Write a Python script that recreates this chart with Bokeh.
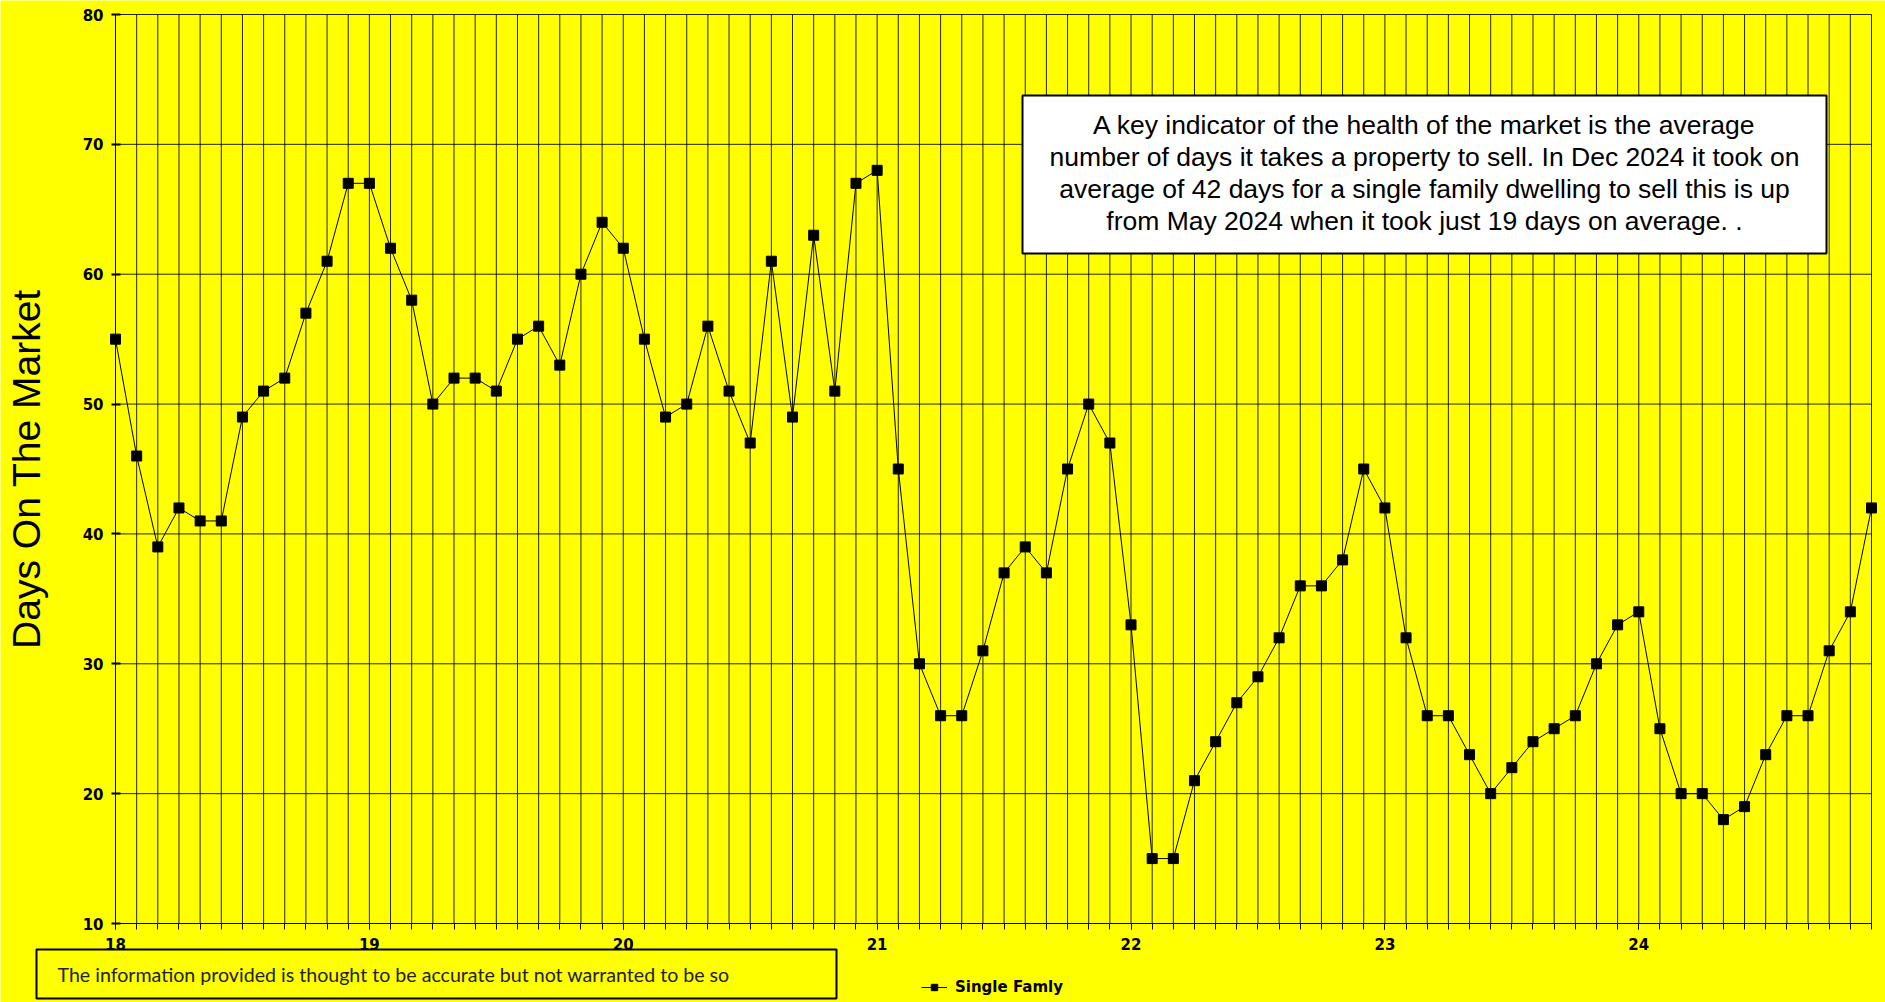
from bokeh.plotting import figure
from bokeh.models import Range1d, FixedTicker, Label, BoxAnnotation, Legend, LegendItem
from bokeh.embed import file_html
from bokeh.resources import INLINE

# ---- data ----
year_labels = ["18", "19", "20", "21", "22", "23", "24"]
days_on_market = [
    55, 46, 39, 42, 41, 41, 49, 51, 52, 57, 61, 67,   # 2018
    67, 62, 58, 50, 52, 52, 51, 55, 56, 53, 60, 64,   # 2019
    62, 55, 49, 50, 56, 51, 47, 61, 49, 63, 51, 67,   # 2020
    68, 45, 30, 26, 26, 31, 37, 39, 37, 45, 50, 47,   # 2021
    33, 15, 15, 21, 24, 27, 29, 32, 36, 36, 38, 45,   # 2022
    42, 32, 26, 26, 23, 20, 22, 24, 25, 26, 30, 33,   # 2023
    34, 25, 20, 20, 18, 19, 23, 26, 26, 31, 34, 42,   # 2024
]
y_ticks = [10, 20, 30, 40, 50, 60, 70, 80]
series_name = "Single Famly"
axis_title = "Days On The Market"
note_lines = [
    "A key indicator of the health of the market is the average",
    "number of days it takes a property to sell. In Dec 2024 it took on",
    "average of 42 days for a single family dwelling to sell this is up",
    "from May 2024 when it took just 19 days on average. .",
]
footer_text = "The information provided is thought to be accurate but not warranted to be so"

months = list(range(len(days_on_market)))
year_ticks = [12 * i for i in range(len(year_labels))]

# ---- layout (pixels on the page) ----
W, H = 1885, 1002
PX_L, PX_R = 115, 1871      # first / last month
PX_T, PX_B = 14, 923        # y = 80 / y = 10
YELLOW = "#ffff00"

last = months[-1]
ymin, ymax = y_ticks[0], y_ticks[-1]
mpx = (PX_R - PX_L) / last
ypx = (PX_B - PX_T) / (ymax - ymin)
x_range = Range1d(-PX_L / mpx, last + (W - PX_R) / mpx)
y_range = Range1d(ymin - (H - PX_B) / ypx, ymax + PX_T / ypx)

p = figure(width=W, height=H, output_backend="svg", toolbar_location=None,
           x_range=x_range, y_range=y_range, min_border=0,
           background_fill_color=YELLOW, border_fill_color=YELLOW,
           outline_line_color=None)
p.grid.visible = False

# grid lines (bounded to the data area)
p.segment(x0=months, y0=[ymin] * len(months), x1=months, y1=[ymax] * len(months),
          line_color="black", line_width=1, line_alpha=0.85)
p.segment(x0=[0] * len(y_ticks), y0=y_ticks, x1=[last] * len(y_ticks), y1=y_ticks,
          line_color="black", line_width=1, line_alpha=0.85)

# axes crossing at the data-area corner
p.xaxis.fixed_location = ymin
p.yaxis.fixed_location = 0
p.xaxis.bounds = (0, last)
p.yaxis.bounds = (ymin, ymax)
p.xaxis.ticker = FixedTicker(ticks=year_ticks, minor_ticks=months)
p.xaxis.major_label_overrides = {t: lab for t, lab in zip(year_ticks, year_labels)}
p.yaxis.ticker = FixedTicker(ticks=y_ticks)
for ax in (p.xaxis, p.yaxis):
    ax.axis_line_color = "black"
    ax.major_tick_line_color = "black"
    ax.minor_tick_line_color = "black"
    ax.major_label_text_font = "DejaVu Sans"
    ax.major_label_text_font_style = "bold"
    ax.major_label_text_font_size = "15px"
    ax.major_label_text_color = "black"
p.xaxis.major_tick_in = 0
p.xaxis.major_tick_out = 6
p.xaxis.minor_tick_in = 0
p.xaxis.minor_tick_out = 6
p.xaxis.major_label_standoff = 8
p.yaxis.major_tick_in = 5
p.yaxis.major_tick_out = 4
p.yaxis.major_tick_line_width = 2
p.yaxis.minor_tick_line_color = None
p.yaxis.major_label_standoff = 8
p.yaxis.axis_label = axis_title
p.yaxis.axis_label_text_font = "Liberation Sans"
p.yaxis.axis_label_text_font_style = "normal"
p.yaxis.axis_label_text_font_size = "39px"
p.yaxis.axis_label_text_color = "black"
p.yaxis.axis_label_standoff = 32

# series
ln = p.line(months, days_on_market, line_color="black", line_width=1)
sq = p.scatter(months, days_on_market, marker="square", size=10,
               fill_color="black", line_color="black")

# note box (screen units, origin bottom-left of canvas)
p.add_layout(BoxAnnotation(left=1022, right=1826, top=H - 95, bottom=H - 253,
                           left_units="screen", right_units="screen",
                           top_units="screen", bottom_units="screen",
                           fill_color="white", fill_alpha=1.0,
                           line_color="black", line_alpha=1.0, line_width=2))
baselines = [124.5, 156.5, 188.5, 220.5]
for txt, yb in zip(note_lines, baselines):
    p.add_layout(Label(x=1424, y=H - yb, x_units="screen", y_units="screen", text=txt,
                       text_align="center", text_baseline="alphabetic",
                       text_font="Liberation Sans", text_font_size="26.5px",
                       text_color="black"))

# footer disclaimer box
p.add_layout(BoxAnnotation(left=36, right=836, top=H - 949, bottom=H - 998,
                           left_units="screen", right_units="screen",
                           top_units="screen", bottom_units="screen",
                           fill_color=YELLOW, fill_alpha=1.0,
                           line_color="black", line_alpha=1.0, line_width=2))
p.add_layout(Label(x=57, y=H - 973.5, x_units="screen", y_units="screen", text=footer_text,
                   text_align="left", text_baseline="middle",
                   text_font="Lato", text_font_size="19.6px", text_color="#222222"))

# legend
legend = Legend(items=[LegendItem(label=series_name, renderers=[ln, sq])],
                location=(921, H - 996), orientation="horizontal",
                background_fill_alpha=0, border_line_color=None,
                padding=0, margin=0, spacing=0,
                glyph_width=26, glyph_height=16, label_height=16, label_standoff=8,
                label_text_font="DejaVu Sans", label_text_font_style="bold",
                label_text_font_size="15px", label_text_color="black")
p.add_layout(legend)

open("out.html", "w").write(file_html(p, INLINE))
